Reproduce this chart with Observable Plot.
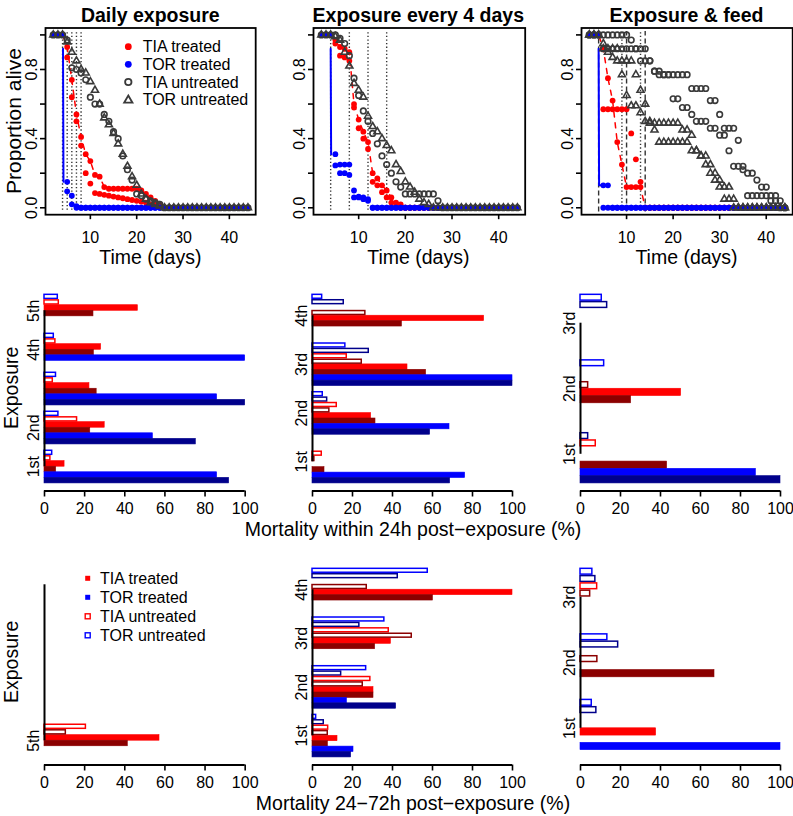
<!DOCTYPE html>
<html><head><meta charset="utf-8">
<script src="https://cdn.jsdelivr.net/npm/d3@7"></script>
<script src="https://cdn.jsdelivr.net/npm/@observablehq/plot@0.6"></script>
<style>
body{margin:0;background:#fff}
#chart{position:relative;width:793px;height:816px;overflow:hidden;background:#fff}
#chart svg{position:absolute}
.pp [aria-label*="tick"]{stroke-width:1.6px}
.pp g[aria-label$="axis"] line{stroke-width:1.6px}
</style></head><body><div id="chart"></div><script>
const FONT = '"Liberation Sans", Arial, Helvetica, sans-serif';
const RED = "#FF0000", DARKRED = "#8B0000", BLUE = "#0000FF", NAVY = "#00008B", GRAY = "#3a3a3a";

// ---------- survival data (days 2..44) ----------
const days = [2,3,4,5,6,7,8,9,10,11,12,13,14,15,16,17,18,19,20,21,22,23,24,25,26,27,28,29,30,31,32,33,34,35,36,37,38,39,40,41,42,43,44];
const timeTicks = [10,20,30,40];
const propTicks = [0,0.2,0.4,0.6,0.8,1];
const propTickLabels = [0,0.4,0.8];

// Daily exposure
const dailyExposureDays = [4,5,6,7,8];
const dailyTIA_A = [1,1,1,0.93,0.74,0.54,0.41,0.31,0.27,0.19,0.18,0.12,0.11,0.11,0.11,0.11,0.11,0.11,0.11,0.10,0.08,0.06,0.04,0.02,0,0,0,0,0,0,0,0,0,0,0,0,0,0,0,0,0,0,0];
const dailyTIA_B = [1,1,1,0.87,0.64,0.50,0.36,0.20,0.14,0.085,0.08,0.075,0.07,0.065,0.06,0.055,0.05,0.045,0.04,0.035,0.03,0.02,0.015,0.01,0,0,0,0,0,0,0,0,0,0,0,0,0,0,0,0,0,0,0];
const dailyTOR_A = [1,1,1,0.15,0.07,0.01,0,0,0,0,0,0,0,0,0,0,0,0,0,0,0,0,0,0,0,0,0,0,0,0,0,0,0,0,0,0,0,0,0,0,0,0,0];
const dailyTOR_B = [1,1,1,0.095,0.02,0,0,0,0,0,0,0,0,0,0,0,0,0,0,0,0,0,0,0,0,0,0,0,0,0,0,0,0,0,0,0,0,0,0,0,0,0,0];
const dailyTIAu = [1,1,1,0.97,0.81,0.80,0.78,0.74,0.64,0.60,0.60,0.54,0.50,0.44,0.40,0.30,0.22,0.16,0.08,0.07,0.05,0.04,0.03,0.02,0,0,0,0,0,0,0,0,0,0,0,0,0,0,0,0,0,0,0];
const dailyTORu = [1,1,1,0.96,0.90,0.85,0.80,0.78,0.73,0.68,0.60,0.52,0.48,0.43,0.37,0.31,0.24,0.18,0.13,0.08,0.05,0.03,0.02,0.01,0,0,0,0,0,0,0,0,0,0,0,0,0,0,0,0,0,0,0];
const dailyTORline = [[4.1,0.92],[4.2,0.15]];

// Exposure every 4 days
const every4ExposureDays = [4,8,12,16];
const every4TIA_A = [1,1,1,0.97,0.93,0.92,0.90,0.60,0.51,0.44,0.38,0.20,0.17,0.13,0.10,0.06,0.03,0.02,0,0,0,0,0,0,0,0,0,0,0,0,0,0,0,0,0,0,0,0,0,0,0,0,0];
const every4TIA_B = [1,1,1,0.95,0.88,0.87,0.85,0.58,0.46,0.40,0.34,0.15,0.13,0.09,0.06,0.03,0.01,0,0,0,0,0,0,0,0,0,0,0,0,0,0,0,0,0,0,0,0,0,0,0,0,0,0];
const every4TOR_A = [1,1,1,0.31,0.25,0.25,0.25,0.10,0.065,0.06,0.05,0,0,0,0,0,0,0,0,0,0,0,0,0,0,0,0,0,0,0,0,0,0,0,0,0,0,0,0,0,0,0,0];
const every4TOR_B = [1,1,1,0.245,0.20,0.20,0.19,0.06,0.06,0.05,0.04,0,0,0,0,0,0,0,0,0,0,0,0,0,0,0,0,0,0,0,0,0,0,0,0,0,0,0,0,0,0,0,0];
const every4TIAu = [1,1,1,1,0.98,0.95,0.88,0.75,0.65,0.56,0.50,0.43,0.37,0.30,0.25,0.20,0.15,0.12,0.08,0.08,0.08,0.08,0.08,0.08,0.08,0.04,0,0,0,0,0,0,0,0,0,0,0,0,0,0,0,0,0];
const every4TORu = [1,1,1,0.99,0.97,0.90,0.82,0.72,0.68,0.64,0.53,0.47,0.44,0.40,0.36,0.33,0.25,0.21,0.15,0.12,0.09,0.05,0.03,0.02,0,0,0,0,0,0,0,0,0,0,0,0,0,0,0,0,0,0,0];
const every4TORline = [[4.0,0.92],[4.1,0.31]];

// Exposure & feed
const feedExposureDays = [9,13];
const feedDays = [4,10,14];
const feedTIA_A = [1,1,1,0.92,0.75,0.62,0.38,0.25,0.12,0.12,0.12,0.12,0,0,0,0,0,0,0,0,0,0,0,0,0,0,0,0,0,0,0,0,0,0,0,0,0,0,0,0,0,0,0];
const feedTIA_B = [1,1,1,0.57,0.57,0.57,0.57,0.57,0.57,0.43,0.28,0.15,0,0,0,0,0,0,0,0,0,0,0,0,0,0,0,0,0,0,0,0,0,0,0,0,0,0,0,0,0,0,0];
const feedTOR_A = [1,1,1,0.13,0.13,0,0,0,0,0,0,0,0,0,0,0,0,0,0,0,0,0,0,0,0,0,0,0,0,0,0,0,0,0,0,0,0,0,0,0,0,0,0];
const feedTOR_B = [1,1,1,0,0,0,0,0,0,0,0,0,0,0,0,0,0,0,0,0,0,0,0,0,0,0,0,0,0,0,0,0,0,0,0,0,0,0,0,0,0,0,0];
const feedTIAu_A = [1,1,1,1,1,1,1,1,1,0.97,0.92,0.85,0.85,0.85,0.79,0.79,0.77,0.77,0.77,0.77,0.77,0.77,0.69,0.69,0.69,0.69,0.62,0.62,0.54,0.46,0.46,0.46,0.39,0.24,0.20,0.20,0.16,0.12,0.12,0.04,0.04,0,0];
const feedTIAu_B = [1,1,1,0.92,0.92,0.92,0.92,0.92,0.92,0.92,0.92,0.92,0.92,0.85,0.79,0.77,0.77,0.77,0.63,0.63,0.58,0.58,0.54,0.50,0.50,0.50,0.46,0.46,0.42,0.42,0.33,0.24,0.24,0.22,0.07,0.07,0.07,0.07,0.07,0.07,0.07,0.04,0];
const feedTORu_A = [1,1,1,0.95,0.90,0.87,0.85,0.85,0.85,0.85,0.77,0.68,0.60,0.50,0.49,0.49,0.49,0.49,0.49,0.49,0.45,0.45,0.42,0.33,0.30,0.30,0.25,0.20,0.16,0.12,0.12,0.05,0,0,0,0,0,0,0,0,0,0,0];
const feedTORu_B = [1,1,1,0.92,0.92,0.92,0.92,0.77,0.65,0.59,0.59,0.55,0.50,0.49,0.45,0.38,0.38,0.38,0.38,0.38,0.38,0.38,0.33,0.33,0.30,0.25,0.20,0.16,0.12,0.05,0.05,0,0,0,0,0,0,0,0,0,0,0,0];
const feedTORline = [[4.0,0.92],[4.1,0.13],[6.0,0.13]];

// ---------- bar data (groups listed bottom to top) ----------
const barStyle = {
  "TIA treated 1": {color: RED, filled: true},
  "TIA treated 2": {color: DARKRED, filled: true},
  "TOR treated 1": {color: BLUE, filled: true},
  "TOR treated 2": {color: NAVY, filled: true},
  "TIA untreated 1": {color: RED, filled: false},
  "TIA untreated 2": {color: DARKRED, filled: false},
  "TOR untreated 1": {color: BLUE, filled: false},
  "TOR untreated 2": {color: NAVY, filled: false}
};
const slots8 = ["TOR untreated 1","TOR untreated 2","TIA untreated 1","TIA untreated 2","TIA treated 1","TIA treated 2","TOR treated 1","TOR treated 2"];

// Mortality within 24h
const m24DailyGroups = ["1st","2nd","3rd","4th","5th"];
const m24DailyLabels = ["1st","2nd","","4th","5th"];
const m24DailySlots = ["TOR untreated 1","TIA untreated 1","TIA treated 1","TIA treated 2","TOR treated 1","TOR treated 2"];
const m24Daily = {
  "TOR untreated 1": [4.2, 7.3, 6.1, 5, 7],
  "TIA untreated 1": [3.3, 16.6, 4.5, 5.8, 7.5],
  "TIA treated 1": [10, 30, 22.4, 28.2, 46.5],
  "TIA treated 2": [5.8, 22.8, 26, 24.6, 24.4],
  "TOR treated 1": [86, 54, 86, 100, 0],
  "TOR treated 2": [92, 75.4, 100, 0, 0]
};
const m24Every4Groups = ["1st","2nd","3rd","4th"];
const m24Every4 = {
  "TOR untreated 1": [0, 5.5, 16.8, 5.2],
  "TOR untreated 2": [0, 7.7, 28.5, 16],
  "TIA untreated 1": [5, 12.5, 17.5, 0],
  "TIA untreated 2": [1.3, 8.8, 25, 26.8],
  "TIA treated 1": [0, 29.3, 47.5, 85.8],
  "TIA treated 2": [6, 31.5, 56.8, 44.7],
  "TOR treated 1": [76.3, 68.5, 100, 0],
  "TOR treated 2": [68.8, 58.8, 100, 0]
};
const m24FeedGroups = ["1st","2nd","3rd"];
const m24Feed = {
  "TOR untreated 1": [0, 12.2, 11],
  "TOR untreated 2": [4.2, 0, 13.7],
  "TIA untreated 1": [8, 0, 0],
  "TIA untreated 2": [0, 4.2, 0],
  "TIA treated 1": [0, 50.3, 0],
  "TIA treated 2": [43.3, 25.3, 0],
  "TOR treated 1": [87.7, 0, 0],
  "TOR treated 2": [100, 0, 0]
};

// Mortality 24-72h
const m72DailyGroups = ["5th","","","",""];
const m72DailySlots = ["TIA untreated 1","TIA untreated 2","TIA treated 1","TIA treated 2","TOR treated 1","TOR treated 2"];
const m72Daily = {
  "TIA untreated 1": [21, null, null, null, null],
  "TIA untreated 2": [11, null, null, null, null],
  "TIA treated 1": [57.3, null, null, null, null],
  "TIA treated 2": [41.5, null, null, null, null],
  "TOR treated 1": [0, null, null, null, null],
  "TOR treated 2": [0, null, null, null, null]
};
const m72Every4Groups = ["1st","2nd","3rd","4th"];
const m72Every4 = {
  "TOR untreated 1": [2.2, 27.2, 36.3, 58],
  "TOR untreated 2": [6, 14.7, 23.8, 43],
  "TIA untreated 1": [8.2, 29.3, 38.5, 0],
  "TIA untreated 2": [8, 25.5, 50, 27.5],
  "TIA treated 1": [12.5, 30.5, 39.2, 100],
  "TIA treated 2": [7.7, 30.5, 31.3, 60.2],
  "TOR treated 1": [20.5, 17.2, 0, 0],
  "TOR treated 2": [19.3, 41.8, 0, 0]
};
const m72FeedGroups = ["1st","2nd","3rd"];
const m72Feed = {
  "TOR untreated 1": [6, 13.8, 6.3],
  "TOR untreated 2": [8.3, 19.2, 7.8],
  "TIA untreated 1": [0, 0, 8.7],
  "TIA untreated 2": [0, 8.8, 5.2],
  "TIA treated 1": [37.8, 0, 0],
  "TIA treated 2": [0, 67, 0],
  "TOR treated 1": [100, 0, 0],
  "TOR treated 2": [0, 0, 0]
};
const pctTicks = [0,20,40,60,80,100];

// ---------- drawing ----------
const chart = document.getElementById("chart");
function place(el, left, top) { el.style.left = left + "px"; el.style.top = top + "px"; chart.append(el); }
const baseStyle = {fontSize: "16px", fontFamily: FONT, background: "transparent", overflow: "visible", color: "black"};
const rowsOf = vals => days.map((d, i) => ({day: d, p: vals[i]}));

function survivalPanel(c) {
  const mL = 45, mR = 2, mT = 27.5, mB = 55.8, H = 270;
  const marks = [
    Plot.ruleX(c.dotted, {y1: -0.015, y2: 1.025, stroke: "#333", strokeWidth: 1.4, strokeDasharray: "1.3,2.3"}),
    c.dashed ? Plot.ruleX(c.dashed, {y1: -0.025, y2: 1.02, stroke: "#333", strokeWidth: 1.4, strokeDasharray: "5,3"}) : null,
    Plot.line(rowsOf(c.tia[0]), {x: "day", y: "p", stroke: RED, strokeWidth: 1.5, strokeDasharray: "5,6"}),
    Plot.line(c.torLine, {x: d => d[0], y: d => d[1], stroke: BLUE, strokeWidth: 2}),
    ...c.tia.map(v => Plot.dot(rowsOf(v), {x: "day", y: "p", fill: RED, r: 2.9})),
    ...c.tor.map(v => Plot.dot(rowsOf(v), {x: "day", y: "p", fill: BLUE, r: 2.9})),
    ...c.tiaU.map(v => Plot.dot(rowsOf(v), {x: "day", y: "p", stroke: GRAY, strokeWidth: 1.6, r: 2.8})),
    ...c.torU.map(v => Plot.dot(rowsOf(v), {x: "day", y: "p", stroke: GRAY, strokeWidth: 1.6, r: 2.6, symbol: "triangle"})),
    Plot.text(propTickLabels, {y: d => d, frameAnchor: "left", textAnchor: "middle", text: d => d.toFixed(1), rotate: -90, dx: -13.5, fontSize: 16}),
    Plot.frame({stroke: "black", strokeWidth: 1.8})
  ].filter(Boolean);
  const svg = Plot.plot({
    width: mL + c.width + mR, height: H,
    marginLeft: mL, marginRight: mR, marginTop: mT, marginBottom: mB,
    style: baseStyle,
    x: {domain: [0.32, 45.68], ticks: timeTicks, tickSize: 5, tickPadding: 12, tickFormat: d => String(d), label: null},
    y: {domain: [-0.04, 1.04], ticks: propTicks, tickSize: 5, tickFormat: () => "", label: null},
    marks
  });
  svg.classList.add("pp");
  place(svg, c.left - mL, 0);
}

function barPanel(c) {
  const S = c.slots.length, G = c.groups.length;
  const rows = [];
  c.groups.forEach((g, gi) => c.slots.forEach((key, t) => {
    const v = c.values[key][gi];
    if (v == null || v <= 0) return;
    rows.push({key, value: v, pos: 1 + gi * (S + 1) + (S - 1 - t), color: barStyle[key].color, filled: barStyle[key].filled});
  }));
  const span = G * (S + 1) - 1;
  const lo = 1 - 0.04 * span, hi = G * (S + 1) + 0.04 * span;
  const centers = c.groups.map((g, gi) => ({label: c.labels[gi], c: 1 + gi * (S + 1) + S / 2}));
  const mL = 45, mR = 14, mT = 10, mB = 40;
  const svg = Plot.plot({
    width: mL + c.width + mR, height: (c.bottom - c.top) + mT + mB,
    marginLeft: mL, marginRight: mR, marginTop: mT, marginBottom: mB,
    style: baseStyle,
    color: {type: "identity"},
    x: {domain: [0, 100], ticks: pctTicks, tickSize: 6, tickPadding: 6, tickFormat: d => String(d), label: null},
    y: {domain: [lo, hi], axis: null},
    marks: [
      Plot.rect(rows.filter(d => d.filled), {x1: 0, x2: "value", y1: "pos", y2: d => d.pos + 1, fill: "color", stroke: "color", strokeWidth: 0.6}),
      Plot.rect(rows.filter(d => !d.filled), {x1: 0, x2: "value", y1: "pos", y2: d => d.pos + 1, fill: "white", stroke: "color", strokeWidth: 1.5, insetTop: 0.75, insetBottom: 0.75, insetRight: 0.75}),
      Plot.ruleX([0], {y1: centers[0].c, y2: centers[G - 1].c, stroke: "black", strokeWidth: 2}),
      Plot.ruleY([lo], {x1: 0, x2: 100, stroke: "black", strokeWidth: 2}),
      Plot.text(centers, {y: "c", frameAnchor: "left", textAnchor: "middle", text: "label", rotate: -90, dx: -11, fontSize: 16})
    ]
  });
  svg.classList.add("pp");
  place(svg, c.left - mL, c.top - mT);
}

survivalPanel({left: 45.2, width: 210.2, dotted: dailyExposureDays, tia: [dailyTIA_A, dailyTIA_B], tor: [dailyTOR_A, dailyTOR_B], tiaU: [dailyTIAu], torU: [dailyTORu], torLine: dailyTORline});
survivalPanel({left: 312.5, width: 211.7, dotted: every4ExposureDays, tia: [every4TIA_A, every4TIA_B], tor: [every4TOR_A, every4TOR_B], tiaU: [every4TIAu], torU: [every4TORu], torLine: every4TORline});
survivalPanel({left: 580.9, width: 211.2, dotted: feedExposureDays, dashed: feedDays, tia: [feedTIA_A, feedTIA_B], tor: [feedTOR_A, feedTOR_B], tiaU: [feedTIAu_A, feedTIAu_B], torU: [feedTORu_A, feedTORu_B], torLine: feedTORline});

const midRow = {top: 285.5, bottom: 490}, botRow = {top: 559.5, bottom: 764};
barPanel({left: 44.3, width: 200.7, ...midRow, groups: m24DailyGroups, labels: m24DailyLabels, slots: m24DailySlots, values: m24Daily});
barPanel({left: 312.3, width: 200, ...midRow, groups: m24Every4Groups, labels: m24Every4Groups, slots: slots8, values: m24Every4});
barPanel({left: 580, width: 200, ...midRow, groups: m24FeedGroups, labels: m24FeedGroups, slots: slots8, values: m24Feed});
barPanel({left: 44.3, width: 200.7, ...botRow, groups: m72DailyGroups, labels: m72DailyGroups, slots: m72DailySlots, values: m72Daily});
barPanel({left: 312.3, width: 200, ...botRow, groups: m72Every4Groups, labels: m72Every4Groups, slots: slots8, values: m72Every4});
barPanel({left: 580, width: 200, ...botRow, groups: m72FeedGroups, labels: m72FeedGroups, slots: slots8, values: m72Feed});

// ---------- titles, axis titles, legends ----------
const ov = d3.create("svg").attr("width", 793).attr("height", 816)
  .style("left", "0px").style("top", "0px").style("pointer-events", "none")
  .attr("font-family", FONT);
const txt = (x, y, s, size, opts = {}) => {
  const t = ov.append("text").attr("x", x).attr("y", y).attr("font-size", size).attr("text-anchor", opts.anchor || "middle").text(s);
  if (opts.bold) t.attr("font-weight", "bold");
  return t;
};
const vtxt = (x, y, s, size) => ov.append("text").attr("transform", `translate(${x},${y}) rotate(-90)`).attr("font-size", size).attr("text-anchor", "middle").text(s);

const panelTitles = ["Daily exposure", "Exposure every 4 days", "Exposure & feed"];
const titleCenters = [150.3, 418.3, 686.5];
panelTitles.forEach((s, i) => { txt(titleCenters[i], 22, s, 19.5, {bold: true}); txt(titleCenters[i], 264, "Time (days)", 19.5); });
vtxt(20.7, 121, "Proportion alive", 21);
vtxt(17.5, 387.8, "Exposure", 19.5);
vtxt(17.5, 661.8, "Exposure", 19.5);
txt(413, 536, "Mortality within 24h post\u2212exposure (%)", 19.5);
txt(413, 809.5, "Mortality 24\u221272h post\u2212exposure (%)", 19.5);

const legendLabels = ["TIA treated", "TOR treated", "TIA untreated", "TOR untreated"];
// top legend (points)
const topRows = [46.7, 64.3, 82, 99.7];
ov.append("circle").attr("cx", 128.3).attr("cy", topRows[0]).attr("r", 3.4).attr("fill", RED);
ov.append("circle").attr("cx", 128.3).attr("cy", topRows[1]).attr("r", 3.4).attr("fill", BLUE);
ov.append("circle").attr("cx", 128.3).attr("cy", topRows[2]).attr("r", 3.2).attr("fill", "none").attr("stroke", GRAY).attr("stroke-width", 1.8);
ov.append("path").attr("d", d3.symbol(d3.symbolTriangle, 30)()).attr("transform", `translate(128.3,${topRows[3] + 0.6})`).attr("fill", "none").attr("stroke", GRAY).attr("stroke-width", 1.8);
legendLabels.forEach((s, i) => txt(142.7, topRows[i] + 5.7, s, 16, {anchor: "start"}));
// bottom legend (bars)
const botRows = [578.3, 597.3, 616.3, 635.3];
const sq = [[RED, true], [BLUE, true], [RED, false], [BLUE, false]];
sq.forEach(([col, filled], i) => {
  const r = ov.append("rect").attr("x", 85.2).attr("y", botRows[i] - 2.5).attr("width", 5).attr("height", 5);
  if (filled) r.attr("fill", col); else r.attr("fill", "white").attr("stroke", col).attr("stroke-width", 1.4);
});
legendLabels.forEach((s, i) => txt(100, botRows[i] + 5.7, s, 16, {anchor: "start"}));
chart.append(ov.node());
</script></body></html>
